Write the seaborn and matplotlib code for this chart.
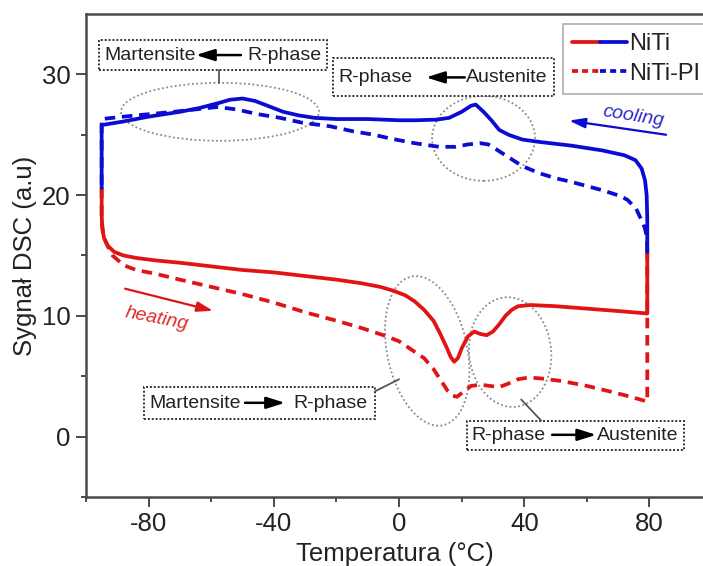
import numpy as np
import pandas as pd
import matplotlib
matplotlib.use("Agg")
import matplotlib.pyplot as plt
import seaborn as sns
from matplotlib.lines import Line2D
from matplotlib.legend_handler import HandlerTuple
from matplotlib.patches import Ellipse, Rectangle
from matplotlib.transforms import ScaledTranslation

# ---------------- data ----------------
niti_heat_x = [-95, -95, -94.8, -94.2, -93, -91, -88, -84, -78, -70, -60, -50, -40, -30, -20, -12, -6, -2,
               2, 5, 8, 11, 13, 15, 16.5, 17.6, 18.8, 20, 22, 24, 26, 28, 30, 32, 34, 36, 38, 42, 50, 60,
               70, 79.3, 79.3, 79.3]
niti_heat_y = [20.6, 18.5, 17.2, 16.4, 15.8, 15.3, 15.0, 14.8, 14.6, 14.4, 14.1, 13.8, 13.6, 13.3, 13.0,
               12.7, 12.4, 12.1, 11.7, 11.2, 10.5, 9.6, 8.6, 7.5, 6.6, 6.2, 6.5, 7.3, 8.3, 8.7, 8.5, 8.4,
               8.7, 9.3, 10.0, 10.5, 10.8, 10.9, 10.8, 10.6, 10.4, 10.2, 12.5, 15.3]

niti_cool_x = [79.3, 79.3, 79.1, 78.6, 77.5, 75.5, 72, 65, 55, 45, 39.4, 35, 32, 29.5, 27, 24.5, 23, 20,
               16, 12, 5, 0, -10, -20, -27, -32, -37, -42, -46, -50, -54, -58, -64, -70, -80, -88, -95,
               -95, -95]
niti_cool_y = [15.3, 18.0, 20.0, 21.2, 22.2, 22.9, 23.3, 23.7, 24.1, 24.4, 24.6, 25.0, 25.4, 26.2, 26.9,
               27.5, 27.4, 26.9, 26.4, 26.25, 26.2, 26.2, 26.3, 26.3, 26.4, 26.6, 26.9, 27.4, 27.8, 28.0,
               27.9, 27.6, 27.2, 26.9, 26.5, 26.1, 25.8, 23.0, 20.6]

pi_heat_x = [-95, -95, -94.5, -93.5, -91.5, -88, -84, -78, -70, -60, -50, -40, -30, -20, -12, -5, 0, 4,
             8, 11, 13.5, 15.5, 17, 18.5, 20.5, 23, 26, 29, 32, 35, 38, 41.5, 46, 52, 60, 68, 74, 79.3,
             79.3, 79.3]
pi_heat_y = [20.6, 18.0, 16.8, 16.0, 15.0, 14.2, 13.8, 13.5, 13.0, 12.4, 11.8, 11.1, 10.3, 9.6, 9.0, 8.4,
             7.9, 7.2, 6.5, 5.6, 4.6, 3.8, 3.4, 3.3, 3.7, 4.2, 4.3, 4.2, 4.1, 4.4, 4.75, 4.9, 4.8, 4.6,
             4.2, 3.7, 3.3, 2.9, 10.0, 15.3]

pi_cool_x = [79.3, 79.2, 78.5, 77.5, 75.7, 73, 71, 65, 60.7, 55, 50, 45, 39.4, 37, 34, 31, 28.5, 26, 22,
             18, 12.8, 5, -3, -8, -15, -22, -31, -38, -45, -52, -58, -65, -72, -80, -88, -95, -95, -95]
pi_cool_y = [15.3, 16.5, 17.3, 17.9, 18.9, 19.6, 19.9, 20.4, 20.7, 21.1, 21.4, 21.8, 22.4, 22.8, 23.3,
             23.8, 24.2, 24.3, 24.2, 24.0, 24.0, 24.3, 24.7, 25.0, 25.3, 25.7, 26.0, 26.4, 26.7, 27.1,
             27.3, 27.1, 26.9, 26.7, 26.5, 26.3, 23.0, 20.6]

series_labels = ["NiTi", "NiTi-PI"]
x_major = [-80, -40, 0, 40, 80]
x_minor = [-100, -60, -20, 20, 60]
y_major = [0, 10, 20, 30]
y_minor = [-5, 5, 15, 25]

# ---------------- style ----------------
sns.set_theme(style="white")
plt.rcParams["font.family"] = ["Liberation Sans", "DejaVu Sans"]
plt.rcParams["axes.unicode_minus"] = False

RED = "#e01414"
BLUE = "#0b0bd2"
SPINE = "#4a4a4a"

fig = plt.figure(figsize=(7.03, 5.66), dpi=100)
ax = fig.add_axes([86 / 703, 69 / 566, 617 / 703, 483 / 566])

def draw(xs, ys, color, dashed):
    df = pd.DataFrame({"Temperatura": xs, "Sygnal": ys})
    sns.lineplot(data=df, x="Temperatura", y="Sygnal", sort=False, estimator=None,
                 color=color, lw=2.7, ax=ax)
    ln = ax.lines[-1]
    if dashed:
        ln.set_dashes((2.8, 1.8))
    ln.set_zorder(3 if dashed else 4)
    ln.set_solid_capstyle("round")

draw(pi_heat_x, pi_heat_y, RED, True)
draw(pi_cool_x, pi_cool_y, BLUE, True)
draw(niti_heat_x, niti_heat_y, RED, False)
draw(niti_cool_x, niti_cool_y, BLUE, False)

ax.set_xlim(-100, 97.1)
ax.set_ylim(-5, 35)
ax.set_xticks(x_major)
ax.set_xticks(x_minor, minor=True)
ax.set_yticks(y_major)
ax.set_yticks(y_minor, minor=True)
ax.tick_params(which="major", direction="out", length=7, width=1.4, color=SPINE,
               labelsize=18.5, labelcolor="#222222", pad=4, left=True, bottom=True)
ax.tick_params(which="minor", direction="out", length=3.8, width=1.4, color=SPINE,
               left=True, bottom=True)
for s in ["left", "bottom", "top"]:
    ax.spines[s].set_color(SPINE)
    ax.spines[s].set_linewidth(1.8)
ax.spines["right"].set_visible(False)

ax.set_xlabel("Temperatura (°C)", fontsize=18.5, color="#222222", labelpad=4)
ax.set_ylabel("Sygnał DSC (a.u)", fontsize=18.5, color="#222222")
ax.yaxis.set_label_coords(-0.079, 0.5)

# ---------------- ellipses (dotted) ----------------
def ellipse(cx, cy, a_px, b_px, ang):
    tr = fig.dpi_scale_trans + ScaledTranslation(cx, cy, ax.transData)
    e = Ellipse((0, 0), width=2 * a_px / 100, height=2 * b_px / 100, angle=ang,
                transform=tr, fill=False, ec="#8a8a8a", lw=1.3, ls=(0, (1, 1.4)), zorder=2)
    ax.add_patch(e)

ellipse(-57.2, 26.9, 99, 29, 0)
ellipse(27.0, 24.7, 51.5, 42.5, 0)
ellipse(9.0, 7.1, 76, 40, 102)
ellipse(35.5, 7.0, 55, 41, 96)

# ---------------- annotation boxes ----------------
def box(x0, x1, y0, y1):
    r = Rectangle((x0, y0), x1 - x0, y1 - y0, fill=True, fc="white", ec="#333333",
                  lw=1.4, ls=(0, (1, 1)), zorder=5)
    ax.add_patch(r)

def arrow(x0, y0, x1, y1, color="black", lw=1.8, ms=16, head="-|>,head_length=0.7,head_width=0.22"):
    ax.annotate("", xy=(x1, y1), xytext=(x0, y0),
                arrowprops=dict(arrowstyle=head, color=color, lw=lw, shrinkA=0, shrinkB=0,
                                mutation_scale=ms), zorder=6)

def word(x, y, s):
    ax.text(x, y, s, fontsize=14, color="#222222", ha="left", va="center", zorder=6)

def leader(x0, y0, x1, y1):
    ax.plot([x0, x1], [y0, y1], color="#555555", lw=1.3, zorder=5)

# Martensite <- R-phase
box(-95.8, -23.0, 30.33, 32.83)
word(-94.0, 31.55, "Martensite")
arrow(-50.5, 31.6, -64.9, 31.6)
word(-48.6, 31.55, "R-phase")
leader(-57.5, 30.33, -57.5, 29.3)

# R-phase <- Austenite
box(-21.1, 49.5, 28.17, 31.33)
word(-19.3, 29.7, "R-phase")
arrow(21.0, 29.75, 8.6, 29.75)
word(21.5, 29.7, "Austenite")

# Martensite -> R-phase
box(-81.5, -7.7, 1.5, 4.08)
word(-79.9, 2.75, "Martensite")
arrow(-49.2, 2.8, -36.4, 2.8)
word(-33.8, 2.75, "R-phase")
leader(-7.7, 3.75, 0.0, 4.75)

# R-phase -> Austenite
box(21.7, 91.1, -1.08, 1.33)
word(23.0, 0.1, "R-phase")
arrow(48.9, 0.15, 63.0, 0.15)
word(63.3, 0.1, "Austenite")
leader(45.4, 1.33, 39.0, 3.08)

# ---------------- cooling / heating ----------------
ax.text(74.8, 26.5, "cooling", fontsize=14, style="italic", color="#2a2ac8",
        ha="center", va="center", rotation=-9, zorder=6)
arrow(85.3, 25.0, 54.3, 26.17, color=BLUE, lw=1.6, ms=12,
      head="-|>,head_length=0.8,head_width=0.25")
ax.text(-77.3, 9.75, "heating", fontsize=14, style="italic", color="#e02a2a",
        ha="center", va="center", rotation=-11, zorder=6)
arrow(-87.5, 12.25, -59.4, 10.42, color=RED, lw=1.6, ms=12,
      head="-|>,head_length=0.8,head_width=0.25")

# ---------------- legend ----------------
h1 = (Line2D([], [], color=RED, lw=2.7), Line2D([], [], color=BLUE, lw=2.7))
h2 = (Line2D([], [], color=RED, lw=2.7, dashes=(1.6, 1.1)),
      Line2D([], [], color=BLUE, lw=2.7, dashes=(1.6, 1.1)))
leg = fig.legend([h1, h2], series_labels, handler_map={tuple: HandlerTuple(ndivide=None, pad=0)},
                 loc="upper left", bbox_to_anchor=(563 / 703, 1 - 24 / 566), fontsize=17,
                 frameon=True, fancybox=False, edgecolor="#9a9a9a", handlelength=2.3,
                 handletextpad=0.1, labelspacing=0.3, borderpad=0.4, borderaxespad=0)
leg.get_frame().set_linewidth(1.2)
for t in leg.get_texts():
    t.set_color("#222222")

fig.savefig("out.png", dpi=100)
